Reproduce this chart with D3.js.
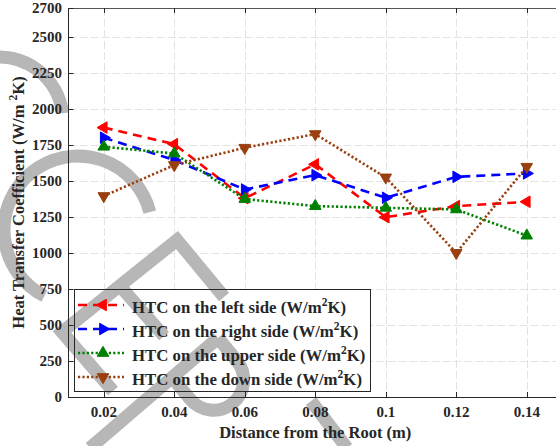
<!DOCTYPE html>
<html>
<head>
<meta charset="utf-8">
<script src="https://cdn.jsdelivr.net/npm/d3@7"></script>
<style>
  body { margin: 0; background: #fff; }
  svg { display: block; }
  text { font-family: "Liberation Serif", "Times New Roman", serif; font-weight: bold; fill: #262626; }
</style>
</head>
<body>
<svg id="chart" width="556" height="446"></svg>
<script>
// Distance from the root (m)
const positions = [0.02, 0.04, 0.06, 0.08, 0.1, 0.12, 0.14];
const xTickLabels = ["0.02", "0.04", "0.06", "0.08", "0.1", "0.12", "0.14"];
const yTicks = [0, 250, 500, 750, 1000, 1250, 1500, 1750, 2000, 2250, 2500, 2700];

// Heat transfer coefficient on each side (W/m^2K)
const htcLeft  = [1870, 1755, 1380, 1615, 1248, 1325, 1355];
const htcRight = [1800, 1645, 1440, 1540, 1383, 1528, 1552];
const htcUpper = [1737, 1690, 1374, 1325, 1313, 1302, 1120];
const htcDown  = [1395, 1610, 1730, 1825, 1524, 1000, 1598];

const seriesNames = ["HTC on the left side", "HTC on the right side", "HTC on the upper side", "HTC on the down side"];
const seriesColors = ["#ff0000", "#0000ff", "#008000", "#9a3f0f"];

const series = [
  { name: seriesNames[0], values: htcLeft,  color: seriesColors[0], dash: "9,6",     rot: -90 },
  { name: seriesNames[1], values: htcRight, color: seriesColors[1], dash: "9,6",     rot: 90 },
  { name: seriesNames[2], values: htcUpper, color: seriesColors[2], dash: "2.2,2.2", rot: 0 },
  { name: seriesNames[3], values: htcDown,  color: seriesColors[3], dash: "2.2,2.2", rot: 180 }
];

const svg = d3.select("#chart");
const W = 556, H = 446;
const pL = 68.5, pR = 562, pT = 8, pB = 397;

const x = d3.scaleLinear().domain([0.01, 0.15]).range([pL, pR]);
const y = d3.scaleLinear().domain([0, 2700]).range([pB, pT]);

svg.append("rect").attr("width", W).attr("height", H).attr("fill", "#fff");

// grid
const grid = svg.append("g").attr("stroke", "#e3e3e3").attr("stroke-width", 1).attr("stroke-dasharray", "8,3");
grid.selectAll("line.gx").data(positions).join("line")
  .attr("x1", d => Math.round(x(d)) + 0.5).attr("x2", d => Math.round(x(d)) + 0.5)
  .attr("y1", pT).attr("y2", pB);
grid.selectAll("line.gy").data(yTicks).join("line")
  .attr("x1", pL).attr("x2", pR)
  .attr("y1", d => Math.round(y(d)) + 0.5).attr("y2", d => Math.round(y(d)) + 0.5);

// legend panel background
const lg = { x0: 74.5, y0: 289.5, x1: 370.5, y1: 391.5 };
svg.append("rect").attr("x", lg.x0).attr("y", lg.y0)
  .attr("width", lg.x1 - lg.x0).attr("height", lg.y1 - lg.y0).attr("fill", "#fff");

// grey stamp lettering in the background
const stamp = svg.append("g").attr("fill", "none").attr("stroke", "#b7b7b7")
  .attr("stroke-width", 13).attr("stroke-linecap", "butt").attr("stroke-linejoin", "miter");
const deg = Math.PI / 180;
const p1 = d3.path(); p1.arc(-1, 121, 64, -100 * deg, -7 * deg, false);
stamp.append("path").attr("d", p1.toString());
const p2 = d3.path(); p2.arc(78, 230, 74, -14 * deg, 117 * deg, true);
stamp.append("path").attr("d", p2.toString());
stamp.append("path").attr("d", "M224,297 L177,240 L62,332 L113,391");
stamp.append("path").attr("d", "M120,286 L164,336");
stamp.append("path").attr("d", "M218,338 L90,448");
stamp.append("path").attr("d", "M218,338 L237,361 A30,30 0 0 1 190,399 L171,376");
stamp.append("path").attr("d", "M311,401 L347,448");

// data
const line = d3.line().x((d, i) => x(positions[i])).y(d => y(d));
const tri = d3.symbol().type(d3.symbolTriangle).size(58);

series.forEach(s => {
  svg.append("path").attr("d", line(s.values)).attr("fill", "none")
    .attr("stroke", s.color).attr("stroke-width", 2.6).attr("stroke-dasharray", s.dash);
  svg.append("g").selectAll("path").data(s.values).join("path")
    .attr("d", tri)
    .attr("transform", (d, i) => `translate(${x(positions[i])},${y(d)}) rotate(${s.rot})`)
    .attr("fill", s.color).attr("stroke", s.color).attr("stroke-width", 1);
});

// axes
const ax = svg.append("g").attr("stroke", "#262626").attr("stroke-width", 1).attr("fill", "none");
ax.append("line").attr("x1", pL).attr("x2", pR).attr("y1", pB + 0.5).attr("y2", pB + 0.5);
ax.append("line").attr("x1", pL).attr("x2", pL).attr("y1", pT).attr("y2", pB + 1);
ax.append("line").attr("x1", pL).attr("x2", pR).attr("y1", pT + 0.5).attr("y2", pT + 0.5).attr("stroke", "#555");

ax.selectAll("line.tx").data(positions).join("line")
  .attr("x1", d => Math.round(x(d)) + 0.5).attr("x2", d => Math.round(x(d)) + 0.5)
  .attr("y1", pB).attr("y2", pB - 5);
ax.selectAll("line.tt").data(positions).join("line")
  .attr("x1", d => Math.round(x(d)) + 0.5).attr("x2", d => Math.round(x(d)) + 0.5)
  .attr("y1", pT).attr("y2", pT + 5);
ax.selectAll("line.ty").data(yTicks).join("line")
  .attr("x1", pL).attr("x2", pL + 5)
  .attr("y1", d => Math.round(y(d)) + 0.5).attr("y2", d => Math.round(y(d)) + 0.5);

svg.append("g").selectAll("text").data(positions).join("text")
  .attr("x", d => x(d)).attr("y", 417).attr("text-anchor", "middle")
  .attr("font-size", 15).text((d, i) => xTickLabels[i]);
svg.append("g").selectAll("text").data(yTicks).join("text")
  .attr("x", 62).attr("y", d => y(d) + 5).attr("text-anchor", "end")
  .attr("font-size", 15).text(d => d);

// axis titles
svg.append("text").attr("x", (pL + pR) / 2).attr("y", 438).attr("text-anchor", "middle")
  .attr("font-size", 16.5).text("Distance from the Root (m)");

const yt = svg.append("text").attr("transform", `translate(24,${(pT + pB) / 2}) rotate(-90)`)
  .attr("text-anchor", "middle").attr("font-size", 16.5);
yt.append("tspan").text("Heat Transfer Coefficient (W/m ");
yt.append("tspan").attr("font-size", 11.5).attr("dy", -7).text("2");
yt.append("tspan").attr("dy", 7).text("K)");

// legend
const lgG = svg.append("g");
lgG.append("rect").attr("x", lg.x0).attr("y", lg.y0)
  .attr("width", lg.x1 - lg.x0).attr("height", lg.y1 - lg.y0)
  .attr("fill", "none").attr("stroke", "#262626").attr("stroke-width", 1);
series.forEach((s, k) => {
  const ry = 305 + k * 24;
  lgG.append("line").attr("x1", 78).attr("x2", 124).attr("y1", ry).attr("y2", ry)
    .attr("stroke", s.color).attr("stroke-width", 2.6).attr("stroke-dasharray", s.dash);
  lgG.append("path").attr("d", tri).attr("transform", `translate(103,${ry}) rotate(${s.rot})`)
    .attr("fill", s.color).attr("stroke", s.color);
  const t = lgG.append("text").attr("x", 132).attr("y", ry + 8).attr("font-size", 16.8);
  t.append("tspan").text(s.name + " (W/m");
  t.append("tspan").attr("font-size", 11.5).attr("dy", -7).text("2");
  t.append("tspan").attr("dy", 7).text("K)");
});
</script>
</body>
</html>
